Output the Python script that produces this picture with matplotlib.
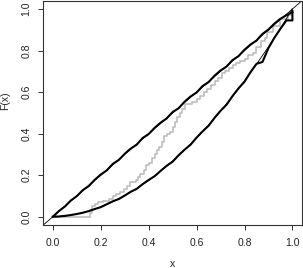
import matplotlib
matplotlib.use("Agg")
import matplotlib.pyplot as plt

plt.rcParams['font.family'] = ['Liberation Sans', 'DejaVu Sans']

# Upper band: jagged thick curve around the diagonal
up_x = [0.000, 0.025, 0.050, 0.075, 0.100, 0.125, 0.150, 0.175, 0.200, 0.225,
        0.250, 0.275, 0.300, 0.325, 0.350, 0.375, 0.400, 0.425, 0.450, 0.475,
        0.500, 0.525, 0.550, 0.575, 0.600, 0.625, 0.650, 0.675, 0.700, 0.725,
        0.750, 0.775, 0.800, 0.825, 0.850, 0.875, 0.900, 0.925, 0.950, 0.975, 1.000]
up_y = [0.000, 0.027, 0.049, 0.078, 0.099, 0.128, 0.148, 0.178, 0.203, 0.223,
        0.254, 0.273, 0.303, 0.328, 0.347, 0.379, 0.398, 0.428, 0.453, 0.473,
        0.504, 0.522, 0.554, 0.579, 0.598, 0.629, 0.648, 0.679, 0.704, 0.723,
        0.754, 0.773, 0.804, 0.829, 0.848, 0.880, 0.901, 0.930, 0.953, 0.970, 0.985]

# Lower band: smooth thin curve
lt_x = [0.00, 0.05, 0.10, 0.15, 0.20, 0.25, 0.30, 0.35, 0.40, 0.45, 0.50,
        0.55, 0.60, 0.65, 0.70, 0.75, 0.80, 0.85, 0.90, 0.95, 1.00]
lt_y = [0.000, 0.003, 0.013, 0.027, 0.047, 0.072, 0.101, 0.136, 0.175, 0.219, 0.268,
        0.321, 0.379, 0.441, 0.508, 0.579, 0.654, 0.734, 0.818, 0.907, 1.000]

# Lower band: jagged thick curve
lo_x = [0.000, 0.025, 0.050, 0.075, 0.100, 0.125, 0.150, 0.175, 0.200, 0.225,
        0.250, 0.275, 0.300, 0.325, 0.350, 0.375, 0.400, 0.425, 0.450, 0.475,
        0.500, 0.525, 0.550, 0.575, 0.600, 0.625, 0.650, 0.675, 0.700, 0.725,
        0.750, 0.775, 0.800, 0.825, 0.850, 0.875, 0.900, 0.925, 0.950, 0.975,
        1.000, 1.000]
lo_y = [0.000, 0.001, 0.004, 0.008, 0.013, 0.019, 0.027, 0.037, 0.046, 0.060,
        0.074, 0.085, 0.102, 0.120, 0.134, 0.157, 0.177, 0.195, 0.221, 0.245,
        0.265, 0.296, 0.323, 0.347, 0.381, 0.411, 0.438, 0.476, 0.510, 0.539,
        0.581, 0.618, 0.650, 0.696, 0.736, 0.745, 0.812, 0.862, 0.905, 0.945,
        0.945, 0.990]

# Grey empirical step function
g_x = [0.00, 0.155, 0.165, 0.175, 0.19, 0.21, 0.235, 0.25, 0.265, 0.28, 0.295,
       0.31, 0.32, 0.345, 0.355, 0.365, 0.38, 0.39, 0.40, 0.415, 0.425, 0.435,
       0.445, 0.455, 0.465, 0.475, 0.49, 0.50, 0.51, 0.52, 0.53, 0.54, 0.55,
       0.58, 0.60, 0.615, 0.63, 0.645, 0.66, 0.675, 0.69, 0.705, 0.72, 0.735,
       0.75, 0.765, 0.78, 0.80, 0.815, 0.835, 0.85, 0.87, 0.885, 0.895, 0.92,
       0.95, 0.98, 1.0]
g_y = [0.0, 0.02, 0.05, 0.06, 0.07, 0.075, 0.085, 0.10, 0.11, 0.12, 0.135,
       0.15, 0.165, 0.175, 0.19, 0.205, 0.225, 0.25, 0.26, 0.285, 0.30, 0.32,
       0.335, 0.36, 0.39, 0.40, 0.41, 0.43, 0.455, 0.48, 0.50, 0.52, 0.545,
       0.55, 0.565, 0.58, 0.60, 0.615, 0.635, 0.655, 0.67, 0.69, 0.70, 0.715,
       0.73, 0.74, 0.75, 0.76, 0.78, 0.79, 0.815, 0.845, 0.86, 0.89, 0.92,
       0.95, 0.97, 1.0]

ticks = [0.0, 0.2, 0.4, 0.6, 0.8, 1.0]
tick_labels = ["0.0", "0.2", "0.4", "0.6", "0.8", "1.0"]

W, H = 303, 268
fig = plt.figure(figsize=(W / 100, H / 100), dpi=100)
ax = fig.add_axes([43.3 / W, 43.0 / H, (302 - 43.3) / W, (225 - 0.7) / H])

ax.step(g_x, g_y, where='post', color='#bdbdbd', lw=1.2, zorder=1)
ax.axline((0, 0), slope=1, color='black', lw=0.6, zorder=2)
ax.plot(lt_x, lt_y, color='black', lw=0.6, zorder=2)
ax.plot(up_x, up_y, color='black', lw=1.5, zorder=3)
ax.plot(lo_x, lo_y, color='black', lw=1.5, zorder=3)

ax.set_xlim(-0.04, 1.04)
ax.set_ylim(-0.04, 1.04)
ax.set_xticks(ticks)
ax.set_xticklabels(tick_labels)
ax.set_yticks(ticks)
ax.set_yticklabels(tick_labels, rotation=90, va='center')
ax.tick_params(axis='both', length=3.5, width=0.7, colors='#333333',
               labelsize=7.5, labelcolor='#222222')
ax.tick_params(axis='x', pad=6)
ax.tick_params(axis='y', pad=5)
for s in ax.spines.values():
    s.set_color('#333333')
    s.set_linewidth(0.8)

fig.text(172.5 / W, 1 - 264 / H, "x", ha='center', va='center', fontsize=7.5, color='#222222')
fig.text(5 / W, 1 - 101 / H, "F(x)", ha='center', va='center', rotation=90, fontsize=7.5, color='#222222')

fig.savefig("out.png", dpi=100)
